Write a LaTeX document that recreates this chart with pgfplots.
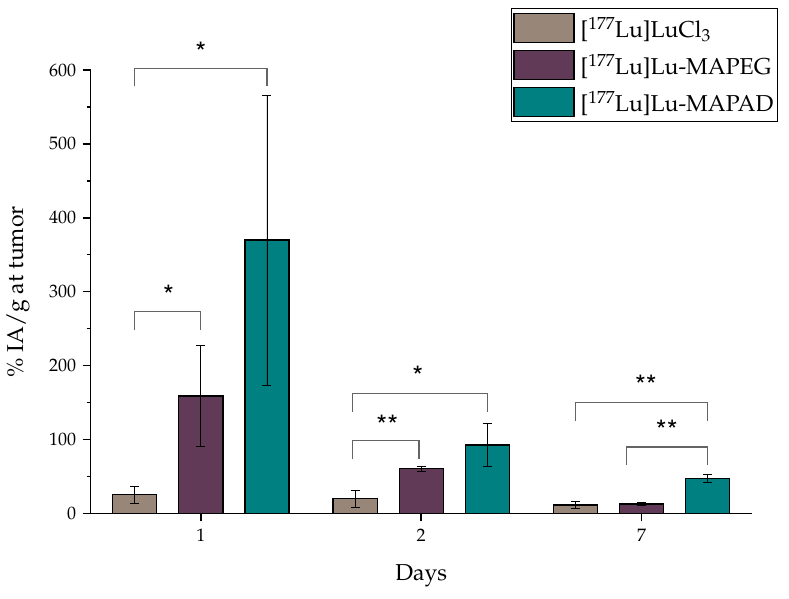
\documentclass[border=0pt]{standalone}
\usepackage[T1]{fontenc}
\usepackage{mathpazo}
\usepackage{pgfplots}
\pgfplotsset{compat=1.18}
\definecolor{cbrown}{RGB}{152,134,120}
\definecolor{cpurple}{RGB}{96,58,86}
\definecolor{cteal}{RGB}{0,128,128}
\definecolor{cbracket}{RGB}{100,100,100}
\newcommand\lblfont{\fontsize{23}{27}\selectfont}
\newcommand\tickfont{\fontsize{18}{21}\selectfont}
\newcommand\starfont{\fontfamily{phv}\fontseries{m}\fontsize{28}{32}\selectfont}
\tikzset{sigstar/.style={font=\starfont, yshift=-6pt, inner sep=0pt}}
\begin{document}
\begin{tikzpicture}
\path[use as bounding box] (-90.7pt,-84.7pt) rectangle (698.3pt,513.3pt);
\begin{axis}[
  at={(0pt,0pt)}, anchor=south west,
  scale only axis, width=661pt, height=443.3pt,
  xmin=-0.5, xmax=2.5, ymin=0, ymax=600,
  axis x line*=bottom, axis y line*=left,
  axis line style={line width=1.5pt, black},
  xtick={0,1,2}, xticklabels={1,2,7},
  ytick={0,100,...,600}, minor y tick num=1,
  tick align=outside, tick style={line width=1.5pt, black},
  major tick length=8pt, minor tick length=4pt,
  ticklabel style={font=\tickfont},
  xticklabel style={yshift=-4pt},
  yticklabel style={xshift=-3pt},
  label style={font=\lblfont},
  xlabel={Days}, ylabel={\% IA/g at tumor},
  xlabel style={at={(axis description cs:0.5,-0.1414)}, anchor=center},
  ylabel style={at={(axis description cs:-0.11,0.5)}, anchor=center},
  clip=false,
  legend style={at={(axis description cs:1.0393,1.1388)}, anchor=north east,
    draw=black, line width=0.8pt, font=\lblfont, legend cell align=left,
    inner xsep=2pt, inner ysep=4pt, row sep=7pt},
  bar stl/.style={ybar, bar width=0.2, bar shift=0pt, draw=black, line width=1.2pt,
    legend image code/.code={\draw[##1, draw=black, line width=1.2pt] (0pt,-14.5pt) rectangle (60pt,14.5pt); \path (64pt,0pt);},
    error bars/y dir=both, error bars/y explicit,
    error bars/error bar style={black, line width=0.8pt},
    error bars/error mark options={rotate=90, mark size=4.5pt, black, line width=0.8pt}},
]
\addplot[bar stl, fill=cbrown] coordinates {
  (-0.3,25.2) +- (0,11.3)
  (0.7,19.8) +- (0,11.3)
  (1.7,11.2) +- (0,5)
};
\addlegendentry{[$^{177}$Lu]LuCl$_3$}
\addplot[bar stl, fill=cpurple] coordinates {
  (0,158.7) +- (0,68.7)
  (1,60.4) +- (0,3.6)
  (2,12.6) +- (0,2.3)
};
\addlegendentry{[$^{177}$Lu]Lu-MAPEG}
\addplot[bar stl, fill=cteal] coordinates {
  (0.3,369.8) +- (0,196.5)
  (1.3,92.4) +- (0,29.5)
  (2.3,47.4) +- (0,5.8)
};
\addlegendentry{[$^{177}$Lu]Lu-MAPAD}
% significance brackets
\draw[cbracket, line width=1.2pt] (axis cs:-0.3,578) -- (axis cs:-0.3,602) -- (axis cs:0.3,602) -- (axis cs:0.3,578);
\draw[cbracket, line width=1.2pt] (axis cs:-0.3,248) -- (axis cs:-0.3,273) -- (axis cs:0,273) -- (axis cs:0,248);
\draw[cbracket, line width=1.2pt] (axis cs:0.69,137) -- (axis cs:0.69,162.4) -- (axis cs:1.3,162.4) -- (axis cs:1.3,137);
\draw[cbracket, line width=1.2pt] (axis cs:0.69,73.5) -- (axis cs:0.69,98.8) -- (axis cs:0.99,98.8) -- (axis cs:0.99,73.5);
\draw[cbracket, line width=1.2pt] (axis cs:1.7,125.3) -- (axis cs:1.7,149.7) -- (axis cs:2.3,149.7) -- (axis cs:2.3,125.3);
\draw[cbracket, line width=1.2pt] (axis cs:1.93,65.3) -- (axis cs:1.93,89.7) -- (axis cs:2.3,89.7) -- (axis cs:2.3,65.3);
\node[sigstar] at (axis cs:0,632) {*};
\node[sigstar] at (axis cs:-0.147,303) {*};
\node[sigstar] at (axis cs:0.985,193) {*};
\node[sigstar] at (axis cs:0.846,127.2) {**};
\node[sigstar] at (axis cs:2.02,181.7) {**};
\node[sigstar] at (axis cs:2.115,119.5) {**};
\end{axis}
\end{tikzpicture}
\end{document}
